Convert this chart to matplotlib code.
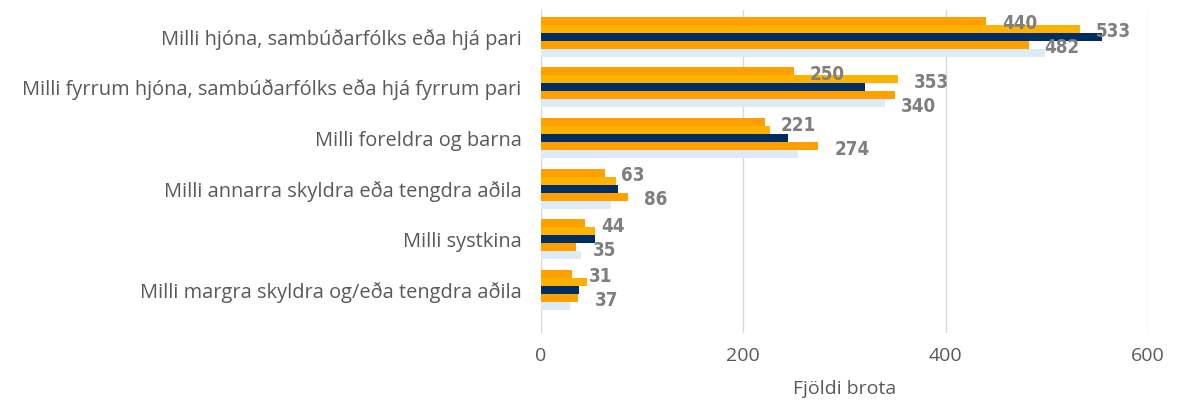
import numpy as np
import matplotlib.pyplot as plt

categories = [
    "Milli hjóna, sambúðarfólks eða hjá pari",
    "Milli fyrrum hjóna, sambúðarfólks eða hjá fyrrum pari",
    "Milli foreldra og barna",
    "Milli annarra skyldra eða tengdra aðila",
    "Milli systkina",
    "Milli margra skyldra og/eða tengdra aðila",
]

# five series per category, top bar first
series_1 = [440, 250, 221, 63, 44, 31]
series_2 = [533, 353, 226, 74, 53, 46]
series_3 = [555, 320, 244, 76, 53, 38]
series_4 = [482, 350, 274, 86, 35, 37]
series_5 = [498, 340, 254, 69, 40, 29]

# (category index, series index) of the bars that carry a value label
labelled = [(0, 0), (0, 1), (0, 3),
            (1, 0), (1, 1), (1, 4),
            (2, 0), (2, 3),
            (3, 0), (3, 3),
            (4, 0), (4, 3),
            (5, 0), (5, 3)]

x_ticks = [0, 200, 400, 600]

all_series = [series_1, series_2, series_3, series_4, series_5]
colors = ["#FFA000", "#FFB300", "#002D62", "#FFA000", "#DDEBF7"]

fig = plt.figure(figsize=(11.91, 4.0), dpi=100)
ax = fig.add_axes([0.4542, 0.1675, 0.5097, 0.8075])

y = np.arange(len(categories))
h = 0.158
for i, (vals, col) in enumerate(zip(all_series, colors)):
    ax.barh(y + (i - 2) * h, vals, height=h, color=col, zorder=3)

for c, s in labelled:
    v = all_series[s][c]
    ax.annotate(str(v), xy=(v, y[c] + (s - 2) * h), xytext=(16, -3),
                textcoords="offset pixels", ha="left", va="center",
                fontsize=13.5, color="#7F7F7F", fontweight="bold",
                family="DejaVu Sans", fontstretch="condensed", zorder=4)

ax.set_xlim(0, 600)
ax.set_ylim(5.85, -0.53)
ax.set_xticks(x_ticks)
ax.set_yticks(y)
ax.set_yticklabels(categories, fontsize=14.4, color="#595959", family="Open Sans")
ax.tick_params(axis="x", labelsize=14, labelcolor="#595959", length=0, pad=10)
ax.tick_params(axis="y", length=0, pad=14)
for lbl in ax.get_xticklabels():
    lbl.set_family("Open Sans")
ax.grid(axis="x", color="#D9D9D9", linewidth=1, zorder=0)
for sp in ax.spines.values():
    sp.set_visible(False)
ax.set_xlabel("Fjöldi brota", fontsize=14, color="#595959", family="Open Sans", labelpad=11)

fig.savefig("out.png", dpi=100)
